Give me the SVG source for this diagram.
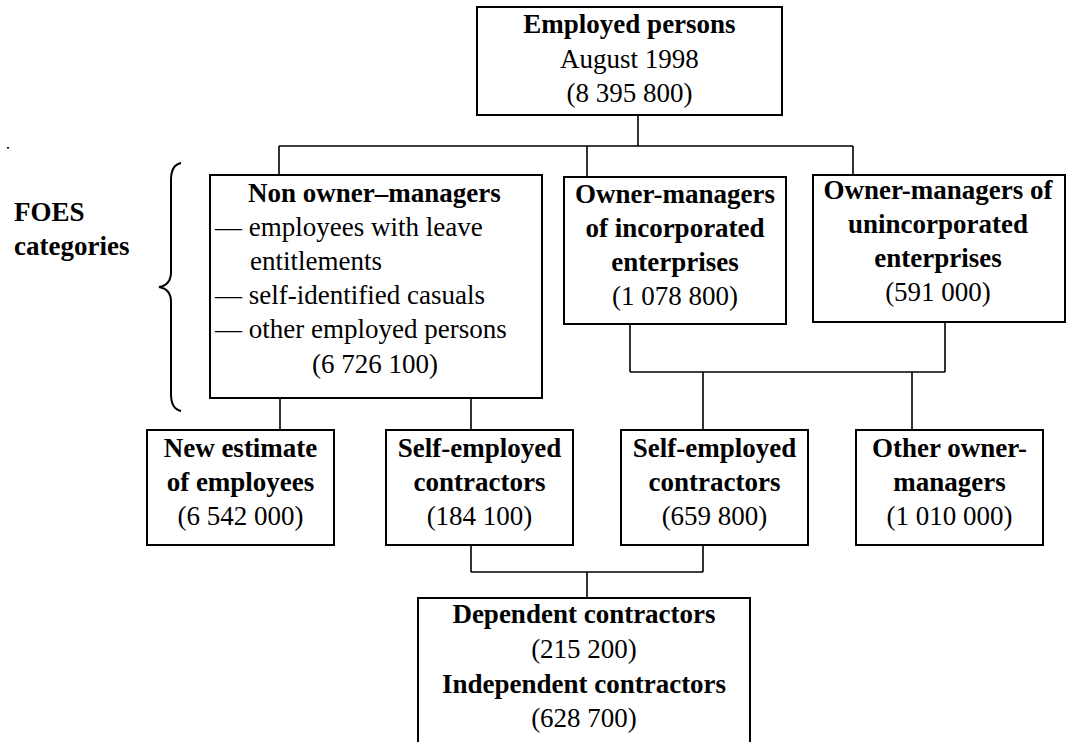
<svg xmlns="http://www.w3.org/2000/svg" width="1067" height="742" viewBox="0 0 1067 742">
<style>
.box{fill:#fff;stroke:#000;stroke-width:2}
.ln{fill:none;stroke:#000;stroke-width:1.6}
.t{font-family:'Liberation Serif','Times New Roman',serif;font-size:27px;fill:#000}
.b{font-weight:bold}
.c{text-anchor:middle}
</style>
<rect width="1067" height="742" fill="#fff"/>
<g id="connectors" class="ln">
<path d="M638,115 V146 M279,146 H853 M279,146 V175 M587,146 V177 M853,146 V175"/>
<path d="M630,324 V372 M945,322 V372 M630,372 H945 M703,372 V430 M912,372 V430"/>
<path d="M280,398 V430 M471,398 V430"/>
<path d="M471,545 V572 M703,545 V572 M471,572 H703 M587,572 V598"/>
</g>
<g id="mark"><rect x="7" y="147" width="2" height="1.5" fill="#000"/></g>
<g class="t" font-family="Liberation Serif, serif">
<g id="foes">
<text class="b" x="14" y="221">FOES</text>
<text class="b" x="14" y="255">categories</text>
<path d="M181,163 Q171,165 171,180 L171,272 Q171,285 159,287 Q171,289 171,302 L171,394 Q171,409 181,411" fill="none" stroke="#000" stroke-width="2"/>
</g>
<g id="employed">
<rect class="box" x="477" y="7" width="305" height="108"/>
<text class="b c" x="629.5" y="33">Employed persons</text>
<text class="c" x="629.5" y="68">August 1998</text>
<text class="c" x="629.5" y="102">(8 395 800)</text>
</g>
<g id="non-owner">
<rect class="box" x="210" y="175" width="332" height="223"/>
<text class="b" x="248" y="202">Non owner–managers</text>
<text x="215" y="236">— employees with leave</text>
<text x="250" y="270">entitlements</text>
<text x="215" y="304">— self-identified casuals</text>
<text x="215" y="338">— other employed persons</text>
<text x="312" y="373">(6 726 100)</text>
</g>
<g id="owner-inc">
<rect class="box" x="564" y="177" width="222" height="147"/>
<text class="b c" x="675" y="203">Owner-managers</text>
<text class="b c" x="675" y="237">of incorporated</text>
<text class="b c" x="675" y="271">enterprises</text>
<text class="c" x="675" y="305">(1 078 800)</text>
</g>
<g id="owner-uninc">
<rect class="box" x="813" y="175" width="252" height="147"/>
<text class="b c" x="938" y="199">Owner-managers of</text>
<text class="b c" x="938" y="233">unincorporated</text>
<text class="b c" x="938" y="267">enterprises</text>
<text class="c" x="938" y="301">(591 000)</text>
</g>
<g id="new-estimate">
<rect class="box" x="147" y="430" width="187" height="115"/>
<text class="b c" x="240.5" y="457">New estimate</text>
<text class="b c" x="240.5" y="491">of employees</text>
<text class="c" x="240.5" y="525">(6 542 000)</text>
</g>
<g id="self-emp-1">
<rect class="box" x="386" y="430" width="187" height="115"/>
<text class="b c" x="479.5" y="457">Self-employed</text>
<text class="b c" x="479.5" y="491">contractors</text>
<text class="c" x="479.5" y="525">(184 100)</text>
</g>
<g id="self-emp-2">
<rect class="box" x="621" y="430" width="187" height="115"/>
<text class="b c" x="714.5" y="457">Self-employed</text>
<text class="b c" x="714.5" y="491">contractors</text>
<text class="c" x="714.5" y="525">(659 800)</text>
</g>
<g id="other-owner">
<rect class="box" x="856" y="430" width="187" height="115"/>
<text class="b c" x="949.5" y="457">Other owner-</text>
<text class="b c" x="949.5" y="491">managers</text>
<text class="c" x="949.5" y="525">(1 010 000)</text>
</g>
<g id="contractors">
<rect class="box" x="418" y="598" width="332" height="160"/>
<text class="b c" x="584" y="623">Dependent contractors</text>
<text class="c" x="584" y="658">(215 200)</text>
<text class="b c" x="584" y="693">Independent contractors</text>
<text class="c" x="584" y="727">(628 700)</text>
</g>
</g>
</svg>
